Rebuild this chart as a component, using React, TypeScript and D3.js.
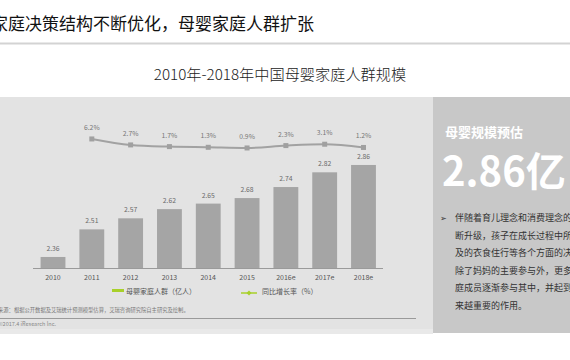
import React from "react";
import * as d3 from "d3";

const categories = ["2010", "2011", "2012", "2013", "2014", "2015", "2016e", "2017e", "2018e"];
const populationValues = [2.36, 2.51, 2.57, 2.62, 2.65, 2.68, 2.74, 2.82, 2.86];
const growthCategories = ["2011", "2012", "2013", "2014", "2015", "2016e", "2017e", "2018e"];
const growthValues = [6.2, 2.7, 1.7, 1.3, 0.9, 2.3, 3.1, 1.2];
const legendLabels = ["母婴家庭人群（亿人）", "同比增长率（%）"];
const pageTitle = "家庭决策结构不断优化，母婴家庭人群扩张";
const chartTitle = "2010年-2018年中国母婴家庭人群规模";
const sideHeading = "母婴规模预估";
const sideValue = "2.86亿";
const sideLines = [
  "伴随着育儿理念和消费理念的不",
  "断升级，孩子在成长过程中所涉",
  "及的衣食住行等各个方面的决策",
  "除了妈妈的主要参与外，更多家",
  "庭成员逐渐参与其中，并起到越",
  "来越重要的作用。",
];
const sourceNote = "来源：根据公开数据及艾瑞统计预测模型估算，艾瑞咨询研究院自主研究及绘制。";
const copyright = "©2017.4 iResearch Inc.";

const FONT = "'Noto Sans CJK SC', 'Noto Sans', sans-serif";

export default function App() {
  const x = d3
    .scaleBand<string>()
    .domain(categories)
    .range([33.6, 382.9])
    .paddingInner(0.36)
    .paddingOuter(0.18);
  const y = d3.scaleLinear().domain([2.3, 2.9]).range([268, 157.6]);
  const y2 = d3.scaleLinear().domain([0, 10]).range([149.5, 132.5]);
  const cx = (c: string) => (x(c) ?? 0) + x.bandwidth() / 2;

  const line = d3
    .line<number>()
    .x((_, i) => cx(growthCategories[i]))
    .y((d) => y2(d))
    .curve(d3.curveMonotoneX);

  return (
    <div style={{ position: "fixed", left: 0, top: 0 }}>
      <svg width={570} height={360} style={{ display: "block", fontFamily: FONT }}>
        <rect x={0} y={0} width={570} height={360} fill="#ffffff" />
        {/* page title */}
        <text x={-9} y={30} fontSize={17} fill="#111">{pageTitle}</text>
        <rect x={0} y={42.5} width={570} height={2} fill="#d3d3d3" />
        {/* chart title */}
        <text x={280} y={80} fontSize={15.2} fill="#222" textAnchor="middle" fontWeight={300}>{chartTitle}</text>

        {/* left panel */}
        <rect x={0} y={97} width={433} height={236} fill="#e3e3e3" />
        <rect x={0} y={329} width={433} height={5} fill="#e9e9e9" />
        {/* right panel */}
        <rect x={433} y={97} width={137} height={236} fill="#c8c8c8" />

        {/* bars */}
        {categories.map((c, i) => (
          <g key={c}>
            <rect
              x={x(c)}
              y={y(populationValues[i])}
              width={x.bandwidth()}
              height={268 - y(populationValues[i])}
              fill="#a5a5a5"
            />
            <text x={cx(c)} y={y(populationValues[i]) - 6} fontSize={6.8} fill="#6a6a6a" textAnchor="middle">
              {populationValues[i].toFixed(2)}
            </text>
            <text x={cx(c)} y={280} fontSize={7} fill="#555" textAnchor="middle">{c}</text>
          </g>
        ))}
        <line x1={33} x2={383} y1={268.5} y2={268.5} stroke="#9a9a9a" strokeWidth={1} />

        {/* growth line */}
        <path d={line(growthValues) ?? ""} fill="none" stroke="#a2a2a2" strokeWidth={2} />
        {growthValues.map((v, i) => (
          <g key={growthCategories[i]}>
            <rect x={cx(growthCategories[i]) - 2.5} y={y2(v) - 2.5} width={5} height={5} fill="#a0a0a0" />
            <text x={cx(growthCategories[i])} y={y2(v) - 9} fontSize={6.8} fill="#777" textAnchor="middle">
              {v.toFixed(1)}%
            </text>
          </g>
        ))}

        {/* legend */}
        <rect x={112} y={289} width={12} height={3} fill="#a8d02a" />
        <text x={126} y={293.5} fontSize={7} fill="#555">{legendLabels[0]}</text>
        <line x1={241} x2={257} y1={293} y2={293} stroke="#a8d02a" strokeWidth={1.5} />
        <path d="M249,290.5 L251.5,293 L249,295.5 L246.5,293 Z" fill="#a8d02a" />
        <text x={262} y={293.5} fontSize={7} fill="#555">{legendLabels[1]}</text>

        {/* footer */}
        <text x={-2} y={312} fontSize={5.3} fill="#777">{sourceNote}</text>
        <line x1={0} x2={416} y1={318.5} y2={318.5} stroke="#9a9a9a" strokeWidth={1} />
        <text x={-2} y={326} fontSize={5.5} fill="#888">{copyright}</text>

        {/* right panel text */}
        <text x={445} y={137} fontSize={13} fontWeight={700} fill="#ffffff">{sideHeading}</text>
        <text x={442} y={186} fontSize={40} fontWeight={700} fill="#ffffff">{sideValue}</text>
        <text x={440} y={221} fontSize={8} fill="#333">➢</text>
        {sideLines.map((t, i) => (
          <text key={i} x={455} y={221 + i * 17.6} fontSize={9} fill="#333">{t}</text>
        ))}
      </svg>
    </div>
  );
}
